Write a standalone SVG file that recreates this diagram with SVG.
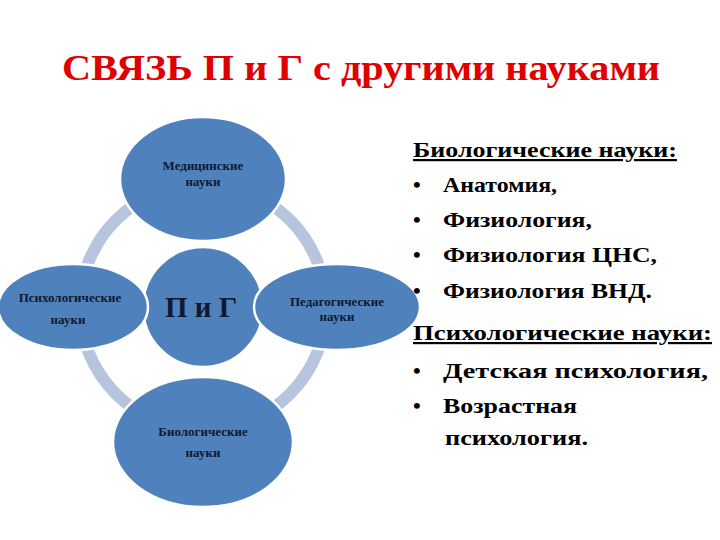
<svg xmlns="http://www.w3.org/2000/svg" width="720" height="540" viewBox="0 0 720 540">
<style>
.node{fill:#4f81bd;stroke:#ffffff;stroke-width:2.5}
</style>
<rect x="0" y="0" width="720" height="540" fill="#ffffff"/>
<text x="62" y="80" font-family="Liberation Serif, serif" font-weight="bold" font-size="35" fill="#e00000" textLength="598" lengthAdjust="spacingAndGlyphs">СВЯЗЬ П и Г с другими науками</text>
<g id="connectors">
<circle cx="203" cy="307" r="123" fill="none" stroke="#b6c4dd" stroke-width="12"/>
</g>
<g font-family="Liberation Serif, serif" font-weight="bold" font-size="13" fill="#0f1a2e" text-anchor="middle">
<g id="center">
<circle class="node" cx="203" cy="307" r="60"/>
<text x="201" y="317" font-size="29">П и Г</text>
</g>
<g id="top">
<ellipse class="node" cx="203" cy="179" rx="83" ry="62"/>
<text x="203" y="170">Медицинские</text>
<text x="203" y="186">науки</text>
</g>
<g id="left">
<ellipse class="node" cx="73" cy="307" rx="75" ry="43"/>
<text x="70" y="302">Психологические</text>
<text x="68" y="324">науки</text>
</g>
<g id="right">
<ellipse class="node" cx="337" cy="307" rx="83" ry="43"/>
<text x="337" y="306">Педагогические</text>
<text x="337" y="321">науки</text>
</g>
<g id="bottom">
<ellipse class="node" cx="203" cy="442" rx="90" ry="65"/>
<text x="203" y="436">Биологические</text>
<text x="203" y="457">науки</text>
</g>
</g>
<g id="list" font-family="Liberation Serif, serif" font-weight="bold" font-size="22" fill="#000000">
<text x="413" y="157" text-decoration="underline" textLength="264" lengthAdjust="spacingAndGlyphs">Биологические науки:</text>
<text x="413" y="192">•</text>
<text x="443" y="192" textLength="114" lengthAdjust="spacingAndGlyphs">Анатомия,</text>
<text x="413" y="227">•</text>
<text x="443" y="227" textLength="149" lengthAdjust="spacingAndGlyphs">Физиология,</text>
<text x="413" y="262">•</text>
<text x="443" y="262" textLength="214" lengthAdjust="spacingAndGlyphs">Физиология ЦНС,</text>
<text x="413" y="298">•</text>
<text x="443" y="298" textLength="209" lengthAdjust="spacingAndGlyphs">Физиология ВНД.</text>
<text x="413" y="340" text-decoration="underline" textLength="299" lengthAdjust="spacingAndGlyphs">Психологические науки:</text>
<text x="413" y="378">•</text>
<text x="443" y="378" textLength="265" lengthAdjust="spacingAndGlyphs">Детская психология,</text>
<text x="413" y="413">•</text>
<text x="443" y="413" textLength="134" lengthAdjust="spacingAndGlyphs">Возрастная</text>
<text x="445" y="445" textLength="143" lengthAdjust="spacingAndGlyphs">психология.</text>
</g>
</svg>
